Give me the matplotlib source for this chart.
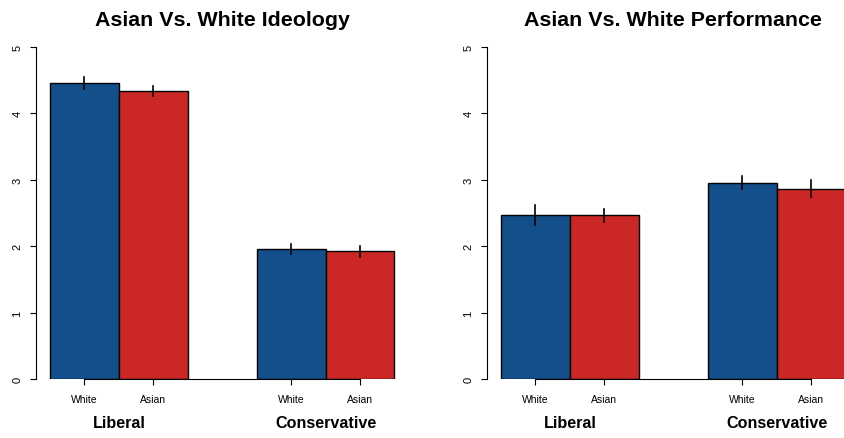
import numpy as np
import matplotlib.pyplot as plt

plt.rcParams['font.family'] = ['Liberation Sans', 'DejaVu Sans']

groups = ["Liberal", "Conservative"]
races = ["White", "Asian"]

# mean and error half-width per group, ordered White then Asian
ideology_means = [[4.45, 4.33], [1.955, 1.92]]
ideology_err = [[0.09, 0.08], [0.075, 0.085]]
performance_means = [[2.47, 2.46], [2.95, 2.86]]
performance_err = [[0.15, 0.10], [0.10, 0.13]]

titles = ["Asian Vs. White Ideology", "Asian Vs. White Performance"]
bar_colors = ["#134F8B", "#CC2727"]


def bar_panel(ax, means, errs, title):
    # beside-style layout: bars of width 1, one empty slot between groups
    centers = []
    for g in range(len(groups)):
        for r in range(len(races)):
            x = 1.5 + g * 3 + r
            centers.append(x)
            ax.bar(x, means[g][r], width=1, color=bar_colors[r],
                   edgecolor="black", linewidth=1.0, zorder=2)
            ax.plot([x, x], [means[g][r] - errs[g][r], means[g][r] + errs[g][r]],
                    color="black", linewidth=1.2, zorder=3)

    ax.set_xlim(0.8, 6.2)
    ax.set_ylim(0, 5)
    for s in ["top", "right"]:
        ax.spines[s].set_visible(False)
    ax.spines["left"].set_bounds(0, 5)
    ax.spines["bottom"].set_bounds(centers[0], centers[-1])

    ax.set_yticks(range(6))
    ax.set_yticklabels([str(i) for i in range(6)], rotation=90, va="center")
    ax.tick_params(axis="y", length=4.3, width=0.8, labelsize=8, pad=5.5)

    ax.set_xticks(centers)
    ax.set_xticklabels(races * len(groups))
    ax.tick_params(axis="x", length=4.3, width=0.8, labelsize=7.5, pad=6.5)

    for g, name in enumerate(groups):
        ax.text(2 + g * 3, -0.66, name, ha="center", va="center",
                fontsize=11.6, fontweight="bold", clip_on=False)

    ax.text(3.5, 5.32, title, ha="center", va="baseline",
            fontsize=15.4, fontweight="bold", clip_on=False)


fig = plt.figure(figsize=(8.44, 4.39), dpi=100)
ax1 = fig.add_axes([36.2 / 844, 59 / 439, 372 / 844, 332.5 / 439])
ax2 = fig.add_axes([487.2 / 844, 59 / 439, 372 / 844, 332.5 / 439])

bar_panel(ax1, ideology_means, ideology_err, titles[0])
bar_panel(ax2, performance_means, performance_err, titles[1])

fig.savefig("out.png", dpi=100)
